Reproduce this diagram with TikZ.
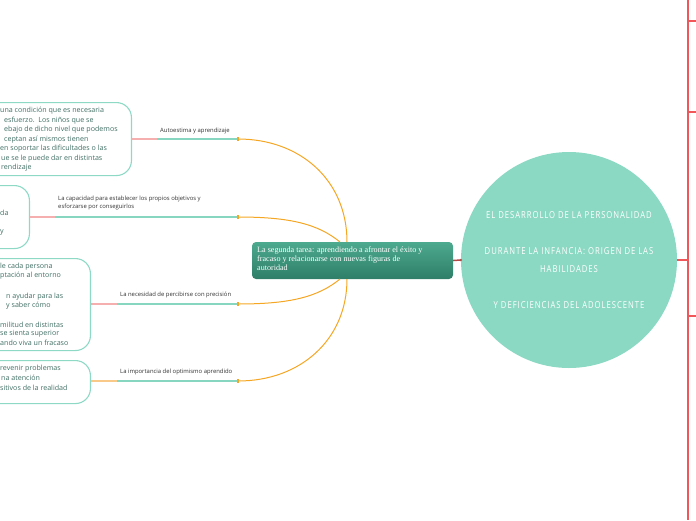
\documentclass[tikz,border=0pt]{standalone}
\usepackage{fontspec}
\setmainfont{Open Sans}
\newfontfamily\serifc{Liberation Serif}
\newfontfamily\titlef[LetterSpace=10,FakeStretch=0.8]{Open Sans}
\usetikzlibrary{calc}
\definecolor{mint}{HTML}{8CD9C3}
\definecolor{boxline}{HTML}{8ED9C6}
\definecolor{tealline}{HTML}{86D6C0}
\definecolor{pinkline}{HTML}{F5AFAF}
\definecolor{orangeline}{HTML}{F5A623}
\definecolor{lightorange}{HTML}{F9C98A}
\definecolor{redline}{HTML}{F0575A}
\definecolor{darkred}{HTML}{B34A48}
\definecolor{boxtext}{HTML}{3F6E63}
\definecolor{labeltext}{HTML}{333333}
\definecolor{ctop}{HTML}{4DAA8E}
\definecolor{cbot}{HTML}{2E7E68}
\tikzset{
  leafbox/.style={draw=boxline, line width=1.1pt, fill=white, rounded corners=15pt, inner sep=0, anchor=north east},
  frag/.style={anchor=west, inner sep=0, font=\fontsize{7.1}{8}\selectfont, text=boxtext},
  blabel/.style={anchor=west, inner sep=0, font=\fontsize{5.9}{7.8}\selectfont, text=labeltext, align=left},
  tealseg/.style={draw=tealline, line width=1.8pt},
  pinkseg/.style={draw=pinkline, line width=1.1pt},
  curve/.style={draw=orangeline, line width=1pt},
  endmark/.style={fill=orangeline, inner sep=0, minimum width=2pt, minimum height=4pt},
}
\begin{document}
\begin{tikzpicture}[x=1pt,y=-1pt]
\useasboundingbox (0,0) rectangle (696,520);

% right red structure
\coordinate (rtop) at (688,0);
\coordinate (rbot) at (688,520);
\draw[redline, line width=1.3pt] (rtop) -- (rbot);
\coordinate (t1a) at (688,21); \coordinate (t1b) at (696,21);
\coordinate (t2a) at (688,112); \coordinate (t2b) at (696,112);
\coordinate (t3a) at (688,316); \coordinate (t3b) at (696,316);
\draw[redline, line width=1.3pt] (t1a) -- (t1b) (t2a) -- (t2b) (t3a) -- (t3b);

% main circle
\node[circle, fill=mint, minimum size=216pt, inner sep=0] (core) at (569,260) {};
\node[text=white, align=center, inner sep=0, font=\titlef\fontsize{9.6}{18}\selectfont] (coretext) at (569,260)
 {EL DESARROLLO DE LA PERSONALIDAD\\[18pt]DURANTE LA INFANCIA: ORIGEN DE LAS\\HABILIDADES\\[18pt]Y DEFICIENCIAS DEL ADOLESCENTE};
\coordinate (rj) at (688,260);
\draw[redline, line width=2pt] (core.east) -- (rj);

% central topic
\node[rounded corners=4pt, top color=ctop, bottom color=cbot, minimum width=201pt, minimum height=37pt, inner sep=0] (topic) at (352.5,260.5) {};
\node[anchor=north west, inner sep=0, text=white, align=left, font=\serifc\fontsize{8.1}{8.8}\selectfont] (topictext) at (257,247)
 {La segunda tarea: aprendiendo a afrontar el éxito y\\fracaso y relacionarse con nuevas figuras de\\autoridad};
\draw[darkred, line width=1.5pt] (topic.east) -- (core.west);
\fill[darkred] (core.west) circle (1.3pt);

% anchor coordinates on topic
\coordinate (s1) at (347,242);
\coordinate (s2) at (340,242);
\coordinate (s3) at (340,279);
\coordinate (s4) at (347,279);

% branch end points
\coordinate (e1) at (238,139);
\coordinate (e2) at (238,217);
\coordinate (e3) at (238,304);
\coordinate (e4) at (238,381);

\draw[curve] (s1) .. controls (347,180) and (300,139) .. (e1);
\draw[curve] (s2) .. controls (318,224) and (290,217) .. (e2);
\draw[curve] (s3) .. controls (318,297) and (290,304) .. (e3);
\draw[curve] (s4) .. controls (347,340) and (300,381) .. (e4);

% leaf boxes
\node[leafbox, minimum width=182pt, minimum height=73pt] (b1) at (132,102) {};
\node[leafbox, minimum width=80pt, minimum height=63pt] (b2) at (30,185) {};
\node[leafbox, minimum width=141pt, minimum height=92pt] (b3) at (91,258) {};
\node[leafbox, minimum width=141pt, minimum height=43pt] (b4) at (91,360) {};

% mid points between pink and teal
\coordinate (m1) at (157,139);
\coordinate (m2) at (55,217);
\coordinate (m3) at (117,304);
\coordinate (m4) at (117,381);

\draw[pinkseg] (b1.east |- m1) -- (m1);
\draw[pinkseg] (b2.east |- m2) -- (m2);
\draw[pinkseg] (b3.east |- m3) -- (m3);
\draw[draw=lightorange, line width=1.1pt] (b4.east |- m4) -- (m4);
\draw[tealseg] (m1) -- (e1);
\draw[tealseg] (m2) -- (e2);
\draw[tealseg] (m3) -- (e3);
\draw[tealseg] (m4) -- (e4);
\foreach \e in {e1,e2,e3,e4} \node[endmark] at (\e) {};

% branch labels
\node[blabel] (l1) at (160,131) {Autoestima y aprendizaje};
\node[blabel] (l2) at (58,203) {La capacidad para establecer los propios objetivos y\\esforzarse por conseguirlos};
\node[blabel] (l3) at (120,295) {La necesidad de percibirse con precisión};
\node[blabel] (l4) at (120,372) {La importancia del optimismo aprendido};

% visible text fragments in the leaf boxes
\node[frag] (f11) at (0,111) {una condición que es necesaria};
\node[frag] (f12) at (4,120.5) {esfuerzo.\ \ Los niños que se};
\node[frag] (f13) at (4,130) {ebajo de dicho nivel que podemos};
\node[frag] (f14) at (4,139.5) {ceptan así mismos tienen};
\node[frag] (f15) at (0,149) {en soportar las dificultades o las};
\node[frag] (f16) at (1,158.5) {ue se le puede dar en distintas};
\node[frag] (f17) at (1,168) {rendizaje};

\node[frag] (f21) at (0,213) {da};
\node[frag] (f22) at (0,232) {y};

\node[frag] (f31) at (0,267) {le cada persona};
\node[frag] (f32) at (0,276) {ptación al entorno};
\node[frag] (f33) at (6,297) {n ayudar para las};
\node[frag] (f34) at (6,305.5) {y saber cómo};
\node[frag] (f35) at (0,325) {militud en distintas};
\node[frag] (f36) at (0,334) {se sienta superior};
\node[frag] (f37) at (0,343) {ando viva un fracaso};

\node[frag] (f41) at (0,368.5) {revenir problemas};
\node[frag] (f42) at (1,378) {na atención};
\node[frag] (f43) at (0,387.5) {sitivos de la realidad};
\end{tikzpicture}
\end{document}
